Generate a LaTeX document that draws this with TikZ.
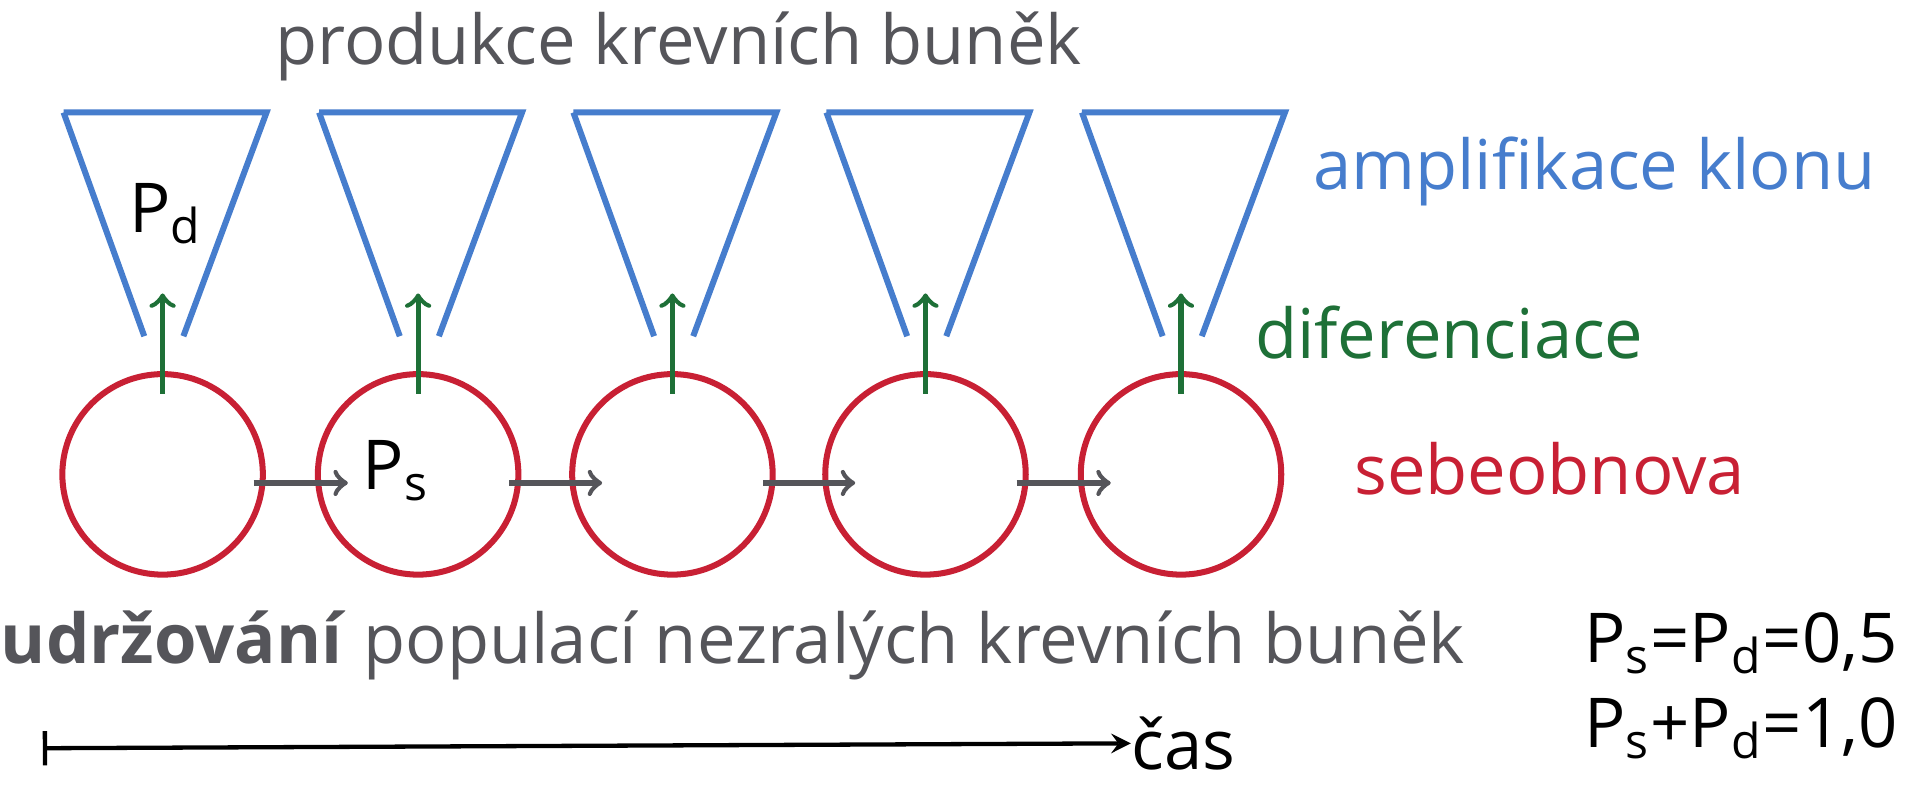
\documentclass[tikz,border=0pt]{standalone}
\usepackage{fontspec}
\setmainfont{Open Sans}
\usetikzlibrary{calc,arrows}
\definecolor{cellred}{RGB}{200,32,52}
\definecolor{clonblue}{RGB}{70,125,205}
\definecolor{difgreen}{RGB}{30,112,55}
\definecolor{txtgray}{RGB}{85,85,90}
\tikzset{
	stem/.style={draw=cellred,circle,line width=1.4pt,minimum size=16.4mm,inner sep=0pt},
	clone/.style={draw=clonblue,line width=1.4pt},
	diff/.style={draw=difgreen,line width=1.2pt,->,>=to},
	renew/.style={draw=txtgray,line width=1.2pt,->,>=to},
	lbl/.style={font=\fontsize{16}{19}\selectfont,inner sep=0pt}
}
\begin{document}
\begin{tikzpicture}[x=0.1mm,y=-0.1mm]
		\useasboundingbox (0,0) rectangle (1568,654);
		
		\node[lbl,text=txtgray] (title) at (555,38) {produkce krevních buněk};
		
		\foreach \i/\x in {1/133,2/342,3/550,4/757,5/966}{
			\node[stem] (c\i) at (\x,388) {};
			\draw[clone] (\x-81,92) -- (\x+85,92) -- (\x+17,275);
			\draw[clone] (\x-81,92) -- (\x-15,275);
			\coordinate (s\i) at (\x,322);
			\coordinate (t\i) at (\x,240);
			\draw[diff] (s\i) -- (t\i);
		}
		\foreach \i/\j in {1/2,2/3,3/4,4/5}{
			\coordinate (a\i) at ($(c\i.east)+(-10,7)$);
			\coordinate (b\i) at ($(c\j.west)+(27,7)$);
			\draw[renew] (a\i) -- (b\i);
		}
		
		\node[lbl,anchor=west] (pd) at (105,175) {P\textsubscript{d}};
		\node[lbl,anchor=west] (ps) at (296,385) {P\textsubscript{s}};
		
		\node[lbl,text=clonblue,anchor=east] (ampl) at (1535,140) {amplifikace klonu};
		\node[lbl,text=difgreen,anchor=east] (difer) at (1345,272) {diferenciace};
		\node[lbl,text=cellred,anchor=east] (sebe) at (1428,383) {sebeobnova};
		
		\node[lbl,anchor=west] (eq1) at (1295,526) {P\textsubscript{s}=P\textsubscript{d}=0,5};
		\node[lbl,anchor=west] (eq2) at (1295,596) {P\textsubscript{s}+P\textsubscript{d}=1,0};
		
		\node[lbl,text=txtgray,anchor=west] (udrz) at (0,528) {\textbf{udržování} populací nezralých krevních buněk};
		
		\coordinate (t0) at (35,612);
		\node[lbl,anchor=west] (cas) at (925,608) {čas};
		\draw[line width=1pt,|->,>=stealth] (t0) -- (cas.west);
	\end{tikzpicture}
\end{document}
